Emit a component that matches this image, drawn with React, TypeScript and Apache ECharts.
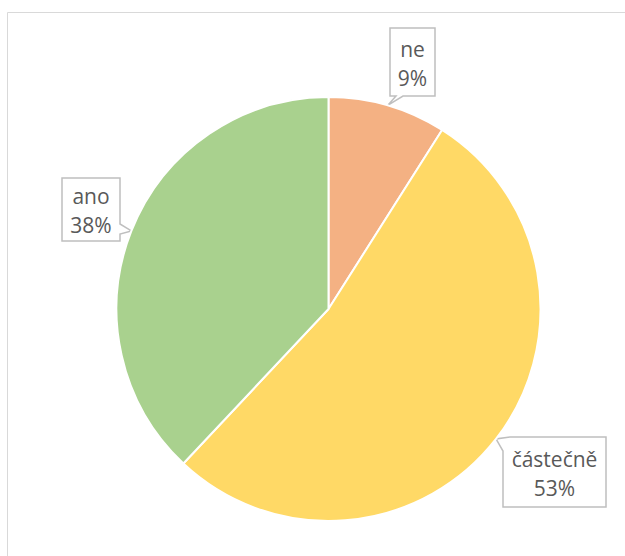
import React, { useEffect, useRef } from "react";
import * as echarts from "echarts";

const categories = ["ne", "částečně", "ano"];
const values = [9, 53, 38];
const colors = ["#F4B183", "#FFD966", "#A9D18E"];

// layout of the callout boxes (page pixels)
const CENTER = [328.5, 309];
const RADIUS = 212;
const BOXES = [
  { x0: 390, y0: 28, x1: 435, y1: 96 },
  { x0: 503, y0: 437, x1: 606, y1: 507 },
  { x0: 62, y0: 178, x1: 120, y1: 241 },
];

function tipFor(i: number): number[] {
  const total = values.reduce((a, b) => a + b, 0);
  let cum = 0;
  for (let k = 0; k < i; k++) cum += values[k];
  const frac = (cum + values[i] / 2) / total;
  const th = frac * Math.PI * 2;
  return [CENTER[0] + RADIUS * Math.sin(th), CENTER[1] - RADIUS * Math.cos(th)];
}

function calloutPoints(i: number): number[][] {
  const b = BOXES[i];
  const t = tipFor(i);
  if (i === 0) {
    return [[b.x0, b.y0], [b.x1, b.y0], [b.x1, b.y1], [b.x0 + 13, b.y1], t, [b.x0 + 6, b.y1], [b.x0, b.y1]];
  }
  if (i === 1) {
    return [[b.x0 + 7, b.y0], [b.x1, b.y0], [b.x1, b.y1], [b.x0, b.y1], [b.x0, b.y0 + 14], t];
  }
  return [[b.x0, b.y0], [b.x1, b.y0], [b.x1, b.y0 + 46], t, [b.x1, b.y0 + 56], [b.x1, b.y1], [b.x0, b.y1]];
}

export default function App() {
  const ref = useRef<HTMLDivElement>(null);
  useEffect(() => {
    if (!ref.current) return;
    const chart = echarts.init(ref.current, null, { renderer: "svg" });
    const callouts = categories.map((_, i) => ({
      type: "polygon",
      z: 0,
      shape: { points: calloutPoints(i) },
      style: { fill: "#FFFFFF", stroke: "#BFBFBF", lineWidth: 1.5 },
    }));
    chart.setOption({
      animation: false,
      backgroundColor: "#FFFFFF",
      graphic: [
        {
          type: "rect",
          z: 0,
          shape: { x: 7.5, y: 12.5, width: 700, height: 700 },
          style: { fill: "none", stroke: "#D9D9D9", lineWidth: 1 },
        },
        ...callouts,
      ],
      series: [
        {
          type: "pie",
          center: CENTER,
          radius: RADIUS,
          startAngle: 90,
          clockwise: true,
          percentPrecision: 0,
          avoidLabelOverlap: false,
          itemStyle: { borderColor: "#FFFFFF", borderWidth: 2 },
          label: {
            show: true,
            formatter: "{b}\n{d}%",
            color: "#595959",
            fontSize: 21,
            lineHeight: 29,
            fontFamily: "Open Sans",
            align: "center",
          },
          labelLine: { show: false },
          labelLayout: (params: any) => {
            const b = BOXES[params.dataIndex];
            return {
              x: (b.x0 + b.x1) / 2,
              y: (b.y0 + b.y1) / 2 + 1,
              align: "center",
              verticalAlign: "middle",
            };
          },
          emphasis: { disabled: true },
          data: categories.map((c, i) => ({
            name: c,
            value: values[i],
            itemStyle: { color: colors[i] },
          })),
        },
      ],
    });
    return () => chart.dispose();
  }, []);
  return (
    <div
      ref={ref}
      style={{ position: "fixed", left: 0, top: 0, width: 625, height: 556 }}
    />
  );
}
